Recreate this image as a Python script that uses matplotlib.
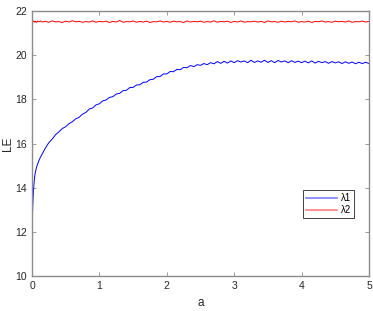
import numpy as np
import matplotlib
matplotlib.use("Agg")
import matplotlib.pyplot as plt

plt.rcParams['font.family'] = ['Liberation Sans', 'DejaVu Sans']

# x grid: dense near zero, then every 0.05
a_head = [0.0, 0.005, 0.01, 0.015, 0.02, 0.03, 0.04, 0.05, 0.065, 0.08, 0.1, 0.125, 0.15]
a_tail = list(np.round(np.arange(0.2, 5.0001, 0.05), 3))
a_vals = a_head + a_tail

lam1 = [11.55, 12.50, 13.05, 13.45, 13.75, 14.20, 14.50, 14.70, 14.90, 15.05, 15.20, 15.38, 15.52,
        15.80, 16.04, 16.20, 16.40, 16.53, 16.68, 16.76, 16.90, 16.99, 17.12,
        17.19, 17.33, 17.41, 17.56, 17.61, 17.75, 17.80, 17.93, 17.97, 18.09,
        18.12, 18.24, 18.27, 18.39, 18.41, 18.53, 18.54, 18.65, 18.66, 18.77,
        18.78, 18.89, 18.91, 19.03, 19.03, 19.15, 19.15, 19.26, 19.25, 19.36,
        19.34, 19.45, 19.43, 19.53, 19.48, 19.57, 19.54, 19.62, 19.57, 19.66,
        19.61, 19.71, 19.63, 19.72, 19.64, 19.74, 19.66, 19.75, 19.69, 19.74,
        19.66, 19.77, 19.67, 19.74, 19.68, 19.77, 19.67, 19.75, 19.66, 19.76,
        19.69, 19.74, 19.66, 19.75, 19.67, 19.73, 19.66, 19.73, 19.65, 19.74,
        19.64, 19.72, 19.66, 19.71, 19.63, 19.71, 19.65, 19.70, 19.62, 19.70,
        19.63, 19.69, 19.61, 19.68, 19.62, 19.68, 19.62]

lam2 = [21.50, 21.53, 21.49, 21.54, 21.51, 21.55, 21.50, 21.53, 21.48, 21.54, 21.51, 21.55, 21.50,
        21.53, 21.49, 21.55, 21.51, 21.52, 21.48, 21.54, 21.50, 21.56, 21.51,
        21.53, 21.49, 21.52, 21.50, 21.55, 21.49, 21.53, 21.51, 21.54, 21.48,
        21.53, 21.50, 21.57, 21.49, 21.52, 21.51, 21.55, 21.49, 21.53, 21.50,
        21.54, 21.48, 21.52, 21.51, 21.55, 21.50, 21.53, 21.49, 21.54, 21.51,
        21.52, 21.48, 21.55, 21.50, 21.53, 21.51, 21.54, 21.49, 21.52, 21.50,
        21.56, 21.49, 21.53, 21.51, 21.54, 21.48, 21.53, 21.50, 21.55, 21.49,
        21.52, 21.51, 21.54, 21.50, 21.53, 21.48, 21.55, 21.51, 21.52, 21.49,
        21.54, 21.50, 21.53, 21.51, 21.55, 21.49, 21.52, 21.50, 21.54, 21.48,
        21.53, 21.51, 21.55, 21.50, 21.52, 21.49, 21.54, 21.51, 21.53, 21.50,
        21.55, 21.49, 21.52, 21.51, 21.54, 21.50, 21.53]

x_ticks = [0, 1, 2, 3, 4, 5]
y_ticks = [10, 12, 14, 16, 18, 20, 22]

fig = plt.figure(figsize=(3.73, 3.11), dpi=100)
ax = fig.add_axes([32 / 373, 35 / 311, 337 / 373, 265 / 311])

ax.plot(a_vals, lam1, color='#0000ff', linewidth=0.7, label='λ1')
ax.plot(a_vals, lam2, color='#ff0000', linewidth=0.7, label='λ2')

ax.set_xlim(0, 5)
ax.set_ylim(10, 22)
ax.set_xticks(x_ticks)
ax.set_yticks(y_ticks)

gray = '#8c8c8c'
for s in ax.spines.values():
    s.set_color(gray)
    s.set_linewidth(1.0)
ax.tick_params(direction='in', length=3, width=0.6, color=gray,
               labelsize=7.5, labelcolor='#262626', top=True, right=True)

ax.set_xlabel('a', fontsize=8.5, color='#262626', va='center')
ax.set_ylabel('LE', fontsize=8.5, color='#262626', va='center')
ax.xaxis.set_label_coords(0.5, -0.103)
ax.yaxis.set_label_coords(-0.07, 0.5)

leg = ax.legend(loc='lower left', bbox_to_anchor=(0.789, 0.2, 0.164, 0.113),
                fontsize=7, fancybox=False, framealpha=1, edgecolor='#404040',
                handlelength=3.2, borderpad=0.3, labelspacing=0.2, handletextpad=0.4)
leg.get_frame().set_linewidth(0.7)
for h in leg.get_lines():
    h.set_alpha(0.5)
    h.set_linewidth(1.2)

fig.savefig('out.png', dpi=100)
